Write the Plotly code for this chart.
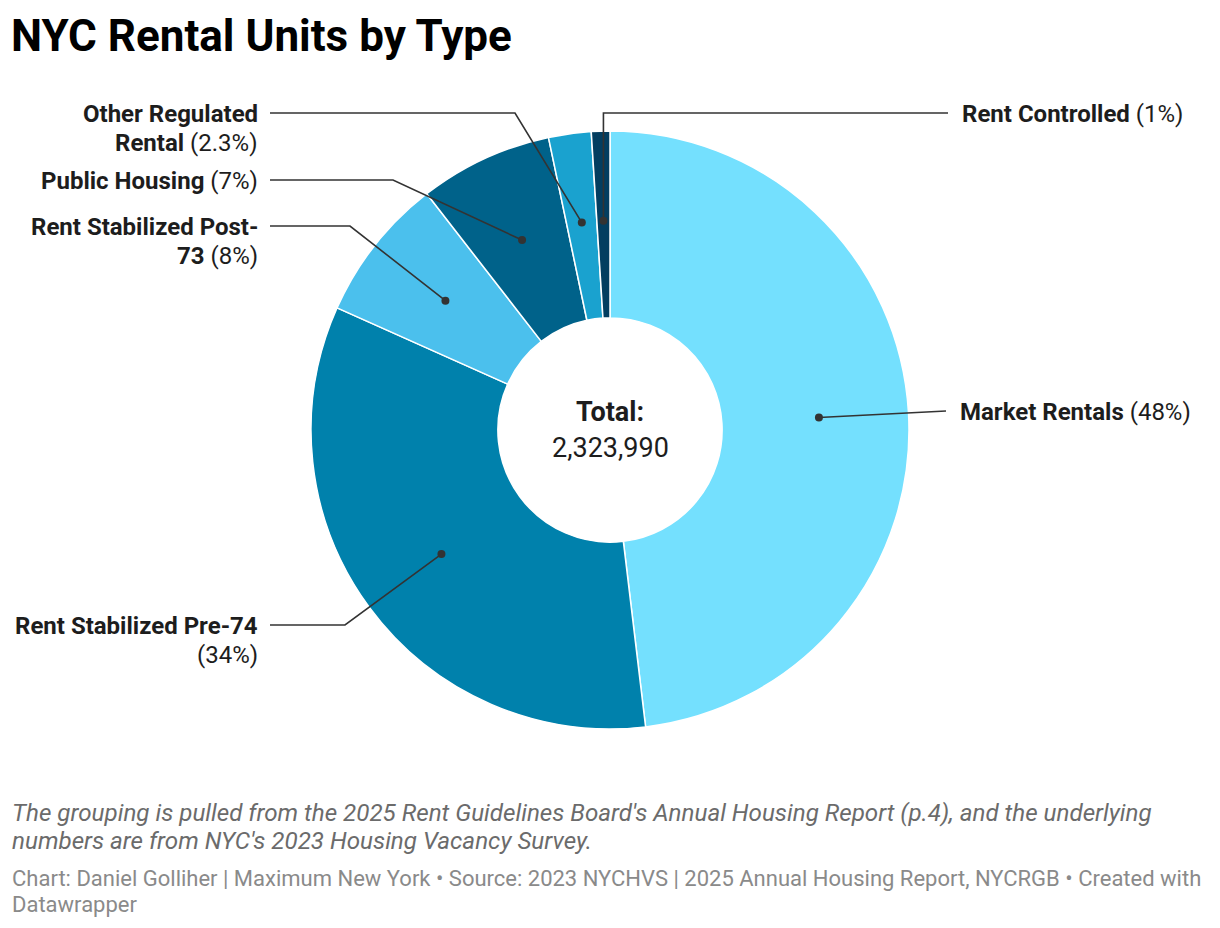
import math
import plotly.graph_objects as go

# ---- data ----
categories = ["Market Rentals", "Rent Stabilized Pre-74", "Rent Stabilized Post-73",
              "Public Housing", "Other Regulated Rental", "Rent Controlled"]
units = [1117839, 780861, 181271, 167327, 53452, 23240]
pct_labels = ["48%", "34%", "8%", "7%", "2.3%", "1%"]
label_lines = [["Market Rentals"], ["Rent Stabilized Pre-74", ""], ["Rent Stabilized Post-", "73"],
               ["Public Housing"], ["Other Regulated", "Rental"], ["Rent Controlled"]]
colors = ["#74E0FE", "#0081AC", "#4BC0ED", "#00628A", "#1AA2CF", "#033E60"]
total_text = "2,323,990"
note_lines = ["The grouping is pulled from the 2025 Rent Guidelines Board's Annual Housing Report (p.4), and the underlying",
              "numbers are from NYC's 2023 Housing Vacancy Survey."]
credit_lines = ["Chart: Daniel Golliher | Maximum New York • Source: 2023 NYCHVS | 2025 Annual Housing Report, NYCRGB • Created with",
                "Datawrapper"]

# ---- layout constants (pixels in the 1220x928 window) ----
OFF = 8                      # default page body margin
W, H = 1220 - OFF, 928 - OFF
CX, CY, R = 610, 430, 299
HOLE = 0.375
DOT_R = 0.70

def px(x):
    return (x - OFF) / W

def py(y):
    return 1 - (y - OFF) / H

# label placement: (side, line_y, elbow_x or None, end_x)
label_pos = [
    ("right", 411, None, 946),
    ("left", 625, 345, 270),
    ("left", 226, 350, 270),
    ("left", 180, 393, 270),
    ("left", 113, 515, 270),
    ("right", 113, "vertical", 948),
]

fig = go.Figure(go.Pie(
    labels=categories, values=units, sort=False, direction="clockwise", rotation=0,
    hole=HOLE, marker=dict(colors=colors, line=dict(color="white", width=1.5)),
    textinfo="none", hoverinfo="label+value+percent", showlegend=False,
    domain=dict(x=[px(CX - R), px(CX + R)], y=[py(CY + R), py(CY - R)]),
))

shapes = []
annotations = []
total = sum(units)
cum = 0
FS = 24
LS = 29
for i, v in enumerate(units):
    mid = (cum + v / 2) / total * 2 * math.pi
    cum += v
    dx = CX + DOT_R * R * math.sin(mid)
    dy = CY - DOT_R * R * math.cos(mid)
    side, ly, elbow, ex = label_pos[i]
    pts = [(dx, dy)]
    if elbow == "vertical":
        pts.append((dx, ly))
    elif elbow is not None:
        pts.append((elbow, ly))
    pts.append((ex, ly))
    path = "M " + " L ".join(f"{px(x):.5f},{py(y):.5f}" for x, y in pts)
    shapes.append(dict(type="path", path=path, xref="paper", yref="paper",
                       line=dict(color="#333333", width=1.6)))
    shapes.append(dict(type="circle", xref="paper", yref="paper",
                       x0=px(dx - 4), x1=px(dx + 4), y0=py(dy + 4), y1=py(dy - 4),
                       fillcolor="#333333", line=dict(width=0)))
    lines = label_lines[i]
    pct = f"<span style='font-weight:normal'>({pct_labels[i]})</span>"
    if len(lines) == 1:
        texts = [f"<b>{lines[0]}</b> {pct}"]
    else:
        second = f"<b>{lines[1]}</b> {pct}" if lines[1] else pct
        texts = [f"<b>{lines[0]}</b>", second]
    for k, t in enumerate(texts):
        if side == "left":
            xa, xanchor = px(260), "right"
        else:
            xa, xanchor = px(ex + 12), "left"
        annotations.append(dict(x=xa, y=py(ly + 1 + k * LS), xref="paper", yref="paper",
                                xanchor=xanchor, yanchor="middle",
                                text=t, showarrow=False,
                                font=dict(family="Roboto", size=FS, color="#1d1d1d")))

# center text
annotations.append(dict(x=px(CX), y=py(412), xref="paper", yref="paper", showarrow=False,
                        text="<b>Total:</b>", font=dict(family="Roboto", size=27, color="#1d1d1d")))
annotations.append(dict(x=px(CX), y=py(448), xref="paper", yref="paper", showarrow=False,
                        text=total_text, font=dict(family="Roboto", size=27, color="#1d1d1d")))

# title
annotations.append(dict(x=px(9), y=py(36), xref="paper", yref="paper", showarrow=False,
                        xanchor="left", yanchor="middle",
                        text="<b>NYC Rental Units by Type</b>",
                        font=dict(family="Roboto", size=44, color="#000000")))

# notes
for k, t in enumerate(note_lines):
    annotations.append(dict(x=px(10), y=py(813 + k * 28), xref="paper", yref="paper", showarrow=False,
                            xanchor="left", yanchor="middle",
                            text=f"<i>{t}</i>",
                            font=dict(family="Roboto", size=24.2, color="#6b6b6b")))
for k, t in enumerate(credit_lines):
    annotations.append(dict(x=px(10), y=py(878 + k * 26), xref="paper", yref="paper", showarrow=False,
                            xanchor="left", yanchor="middle",
                            text=t,
                            font=dict(family="Roboto", size=22, color="#8a8a8a")))

fig.update_layout(width=W, height=H, margin=dict(l=0, r=0, t=0, b=0),
                  paper_bgcolor="white", plot_bgcolor="white",
                  shapes=shapes, annotations=annotations)

fig.write_html("out.html")
